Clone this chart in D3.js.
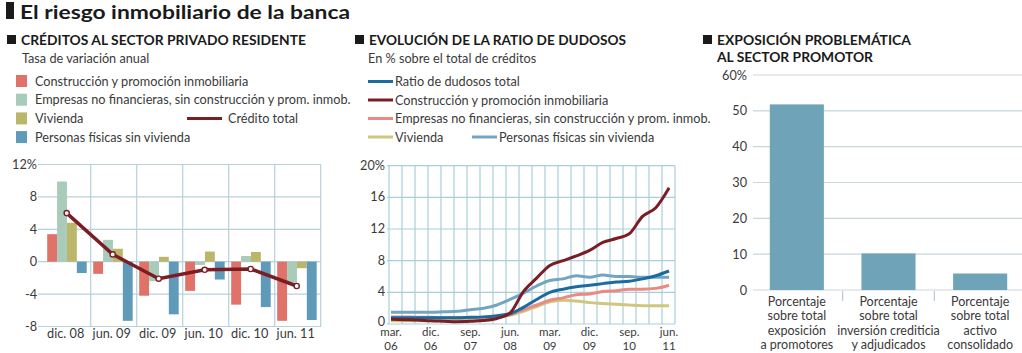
<!DOCTYPE html>
<html>
<head>
<meta charset="utf-8">
<script src="https://cdn.jsdelivr.net/npm/d3@7"></script>
<style>
  body { margin: 0; background: #fff; }
  svg { display: block; font-family: Lato, "Open Sans", sans-serif; }
  .lbl { fill: #3a3a3a; font-size: 12.7px; }
  .ttl { fill: #1a1a1a; font-size: 13px; font-weight: bold; }
</style>
</head>
<body>
<div id="chart"></div>
<script>
// ---- data: créditos al sector privado (tasa de variación anual) ----
const periods = ["dic. 08", "jun. 09", "dic. 09", "jun. 10", "dic. 10", "jun. 11"];
const construccion = [3.4, -1.5, -4.2, -3.6, -5.3, -7.3];
const empresas = [9.9, 2.7, -2.4, -0.4, 0.7, -2.6];
const vivienda = [4.8, 1.6, 0.6, 1.25, 1.2, -0.8];
const personas = [-1.4, -7.3, -6.5, -2.2, -5.6, -7.2];
const creditoTotal = [6.0, 0.9, -2.1, -1.0, -0.9, -3.0];
const leftTicks = [-8, -4, 0, 4, 8, 12];

// ---- data: ratio de dudosos, trimestral mar.06 - jun.11 ----
const quarters = ["mar. 06", "jun. 06", "sep. 06", "dic. 06", "mar. 07", "jun. 07", "sep. 07", "dic. 07",
  "mar. 08", "jun. 08", "sep. 08", "dic. 08", "mar. 09", "jun. 09", "sep. 09", "dic. 09",
  "mar. 10", "jun. 10", "sep. 10", "dic. 10", "mar. 11", "jun. 11"];
const quarterTicks = ["mar. 06", "dic. 06", "sep. 07", "jun. 08", "mar. 09", "dic. 09", "sep. 10", "jun. 11"];
const midTicks = [0, 4, 8, 12, 16, 20];
const ratioTotal = [0.8, 0.8, 0.8, 0.8, 0.8, 0.8, 0.85, 0.9, 1.05, 1.3, 2.1, 3.1, 4.0, 4.4, 4.7, 4.9, 5.1, 5.3, 5.4, 5.7, 6.1, 6.7];
const dudConstruccion = [0.6, 0.55, 0.5, 0.4, 0.35, 0.3, 0.35, 0.45, 0.7, 1.4, 4.1, 5.8, 7.4, 8.0, 8.6, 9.3, 10.3, 10.8, 11.4, 13.6, 14.7, 17.2];
const dudEmpresas = [0.9, 0.9, 0.85, 0.85, 0.8, 0.8, 0.8, 0.85, 0.95, 1.2, 1.8, 2.4, 3.0, 3.3, 3.7, 3.8, 4.1, 4.2, 4.4, 4.4, 4.5, 4.9];
const dudVivienda = [0.4, 0.4, 0.4, 0.4, 0.4, 0.45, 0.5, 0.6, 0.8, 1.1, 1.6, 2.2, 2.8, 3.0, 2.9, 2.7, 2.6, 2.5, 2.4, 2.3, 2.3, 2.3];
const dudPersonas = [1.5, 1.5, 1.5, 1.5, 1.55, 1.6, 1.8, 2.0, 2.4, 3.1, 3.9, 4.8, 5.5, 5.7, 6.1, 5.9, 6.2, 6.0, 6.0, 5.9, 5.9, 5.9];

// ---- data: exposición problemática ----
const exposLabels = [
  ["Porcentaje", "sobre total", "exposición", "a promotores"],
  ["Porcentaje", "sobre total", "inversión crediticia", "y adjudicados"],
  ["Porcentaje", "sobre total", "activo", "consolidado"]
];
const exposValues = [51.8, 10.2, 4.6];
const rightTicks = [0, 10, 20, 30, 40, 50, 60];

const svg = d3.select("#chart").append("svg")
  .attr("width", 1022)
  .attr("height", 353);

// main title
svg.append("rect").attr("x", 6).attr("y", 2).attr("width", 8).attr("height", 17).attr("fill", "#1a1a1a");
svg.append("text").attr("x", 20).attr("y", 18.5)
  .attr("font-size", 19).attr("font-weight", "bold").attr("fill", "#1a1a1a")
  .attr("textLength", 330).attr("lengthAdjust", "spacingAndGlyphs")
  .text("El riesgo inmobiliario de la banca");

function sectionTitle(x, lines, widths) {
  svg.append("rect").attr("x", x).attr("y", 35).attr("width", 9).attr("height", 9).attr("fill", "#1a1a1a");
  lines.forEach((t, i) => {
    svg.append("text").attr("class", "ttl")
      .attr("x", x + 14).attr("y", 45 + i * 17)
      .attr("textLength", widths[i]).attr("lengthAdjust", "spacingAndGlyphs")
      .text(t);
  });
}

// ================= LEFT: bar chart with line =================
const barKeys = ["construccion", "empresas", "vivienda", "personas"];
const barColors = {construccion: "#e0726a", empresas: "#a9cbb9", vivienda: "#bcb66b", personas: "#5f9bb8"};
const barData = {construccion, empresas, vivienda, personas};

sectionTitle(7, ["CRÉDITOS AL SECTOR PRIVADO RESIDENTE"], [285]);
svg.append("text").attr("class", "lbl").attr("x", 22).attr("y", 63).text("Tasa de variación anual");

const leftLegend = [
  ["construccion", "Construcción y promoción inmobiliaria"],
  ["empresas", "Empresas no financieras, sin construcción y prom. inmob."],
  ["vivienda", "Vivienda"],
  ["personas", "Personas físicas sin vivienda"]
];
leftLegend.forEach((d, i) => {
  let y = 81 + i * 18.7;
  svg.append("rect").attr("x", 16).attr("y", y - 6).attr("width", 11).attr("height", 12).attr("fill", barColors[d[0]]);
  svg.append("text").attr("class", "lbl").attr("x", 35).attr("y", y + 4.5).text(d[1]);
});
svg.append("line").attr("x1", 187).attr("x2", 222).attr("y1", 118.4).attr("y2", 118.4)
  .attr("stroke", "#7b1d22").attr("stroke-width", 3);
svg.append("text").attr("class", "lbl").attr("x", 228).attr("y", 122.9).text("Crédito total");

const lx = d3.scaleBand().domain(periods).range([44.7, 320.7]);
const lx1 = d3.scaleBand().domain(barKeys).range([2.5, 42]);
const ly = d3.scaleLinear().domain([-8, 12]).range([326.5, 164.5]);

const leftG = svg.append("g");
leftG.selectAll(".hgrid").data(leftTicks).join("line")
  .attr("x1", 38).attr("x2", 321)
  .attr("y1", d => ly(d)).attr("y2", d => ly(d))
  .attr("stroke", "#b7d1da").attr("stroke-width", 1.2);
leftG.selectAll(".vgrid").data(periods).join("line")
  .attr("x1", d => lx(d) + lx.bandwidth()).attr("x2", d => lx(d) + lx.bandwidth())
  .attr("y1", ly(12)).attr("y2", ly(-8))
  .attr("stroke", "#b7d1da").attr("stroke-width", 1.2);
leftG.selectAll(".ytick").data(leftTicks).join("text")
  .attr("class", "lbl").attr("text-anchor", "end")
  .attr("x", 37).attr("y", d => ly(d) + 4.5)
  .text(d => d === 12 ? "12%" : d);
leftG.selectAll(".xtick").data(periods).join("text")
  .attr("class", "lbl").attr("text-anchor", "middle")
  .attr("x", d => lx(d) + lx.bandwidth() / 2 - 2).attr("y", 338)
  .text(d => d);

periods.forEach((p, i) => {
  barKeys.forEach(k => {
    let v = barData[k][i];
    leftG.append("rect")
      .attr("x", lx(p) + lx1(k))
      .attr("width", lx1.bandwidth())
      .attr("y", ly(Math.max(0, v)))
      .attr("height", Math.abs(ly(v) - ly(0)))
      .attr("fill", barColors[k]);
  });
});

const totalLine = d3.line()
  .x((d, i) => lx(periods[i]) + 22)
  .y(d => ly(d));
leftG.append("path").datum(creditoTotal)
  .attr("d", totalLine)
  .attr("fill", "none").attr("stroke", "#7b1d22").attr("stroke-width", 3.5);
leftG.selectAll(".pt").data(creditoTotal).join("circle")
  .attr("cx", (d, i) => lx(periods[i]) + 22).attr("cy", d => ly(d))
  .attr("r", 2.6).attr("fill", "#fff").attr("stroke", "#7b1d22").attr("stroke-width", 1.4);

// ================= MIDDLE: line chart =================
sectionTitle(355, ["EVOLUCIÓN DE LA RATIO DE DUDOSOS"], [257]);
svg.append("text").attr("class", "lbl").attr("x", 368).attr("y", 63).text("En % sobre el total de créditos");

const lineSeries = [
  {name: "Vivienda", values: dudVivienda, color: "#cfc77f"},
  {name: "Empresas no financieras, sin construcción y prom. inmob.", values: dudEmpresas, color: "#e98b82"},
  {name: "Personas físicas sin vivienda", values: dudPersonas, color: "#72a6c0"},
  {name: "Ratio de dudosos total", values: ratioTotal, color: "#1b6aa0"},
  {name: "Construcción y promoción inmobiliaria", values: dudConstruccion, color: "#7a1d25"}
];
const legendOrder = [
  [3, 368, 81.5], [4, 368, 100], [1, 368, 118.5], [0, 368, 137], [2, 472, 137]
];
legendOrder.forEach(d => {
  let s = lineSeries[d[0]];
  svg.append("line").attr("x1", d[1]).attr("x2", d[1] + 25).attr("y1", d[2]).attr("y2", d[2])
    .attr("stroke", s.color).attr("stroke-width", 3);
  svg.append("text").attr("class", "lbl").attr("x", d[1] + 27).attr("y", d[2] + 4.5).text(s.name);
});

const mx = d3.scaleLinear().domain([0, quarters.length - 1]).range([391, 669]);
const gx = d3.scaleLinear().domain([0, 22]).range([389, 675]);
const my = d3.scaleLinear().domain([0, 20]).range([324, 165.7]);

const midG = svg.append("g");
midG.selectAll(".vgrid").data(d3.range(23)).join("line")
  .attr("x1", d => gx(d)).attr("x2", d => gx(d))
  .attr("y1", my(20)).attr("y2", my(0))
  .attr("stroke", "#a9cfdb").attr("stroke-width", 1.2);
midG.selectAll(".hgrid").data(midTicks).join("line")
  .attr("x1", 387).attr("x2", 675)
  .attr("y1", d => my(d)).attr("y2", d => my(d))
  .attr("stroke", "#a9cfdb").attr("stroke-width", 1.2);
midG.selectAll(".ytick").data(midTicks).join("text")
  .attr("class", "lbl").attr("text-anchor", "end")
  .attr("x", 385).attr("y", d => my(d) + (d === 0 ? 2 : 4))
  .text(d => d === 20 ? "20%" : d);

// two-line quarter labels, kept as separate texts
quarterTicks.forEach(q => {
  let i = quarters.indexOf(q);
  let parts = q.split(" ");
  midG.append("text").attr("class", "lbl").attr("text-anchor", "middle")
    .style("font-size", "11.5px")
    .attr("x", mx(i)).attr("y", 336.3).text(parts[0]);
  midG.append("text").attr("class", "lbl").attr("text-anchor", "middle")
    .style("font-size", "11.5px")
    .attr("x", mx(i)).attr("y", 350.4).text(parts[1]);
});

const dudLine = d3.line()
  .x((d, i) => mx(i))
  .y(d => my(d))
  .curve(d3.curveMonotoneX);
midG.selectAll(".series").data(lineSeries).join("path")
  .attr("d", d => dudLine(d.values))
  .attr("fill", "none")
  .attr("stroke", d => d.color)
  .attr("stroke-width", 3)
  .attr("stroke-linejoin", "round");

// ================= RIGHT: bar chart =================
sectionTitle(703, ["EXPOSICIÓN PROBLEMÁTICA", "AL SECTOR PROMOTOR"], [194, 156]);

const rx = d3.scaleBand().domain(d3.range(exposValues.length))
  .range([751, 1026]).paddingInner(0.41).paddingOuter(0.205);
const ry = d3.scaleLinear().domain([0, 60]).range([290, 75]);

const rightG = svg.append("g");
rightG.selectAll(".hgrid").data(rightTicks).join("line")
  .attr("x1", 753).attr("x2", 1022)
  .attr("y1", d => ry(d)).attr("y2", d => ry(d))
  .attr("stroke", "#c9d6db").attr("stroke-width", 1.2);
rightG.selectAll(".ytick").data(rightTicks).join("text")
  .attr("class", "lbl").attr("text-anchor", "end")
  .attr("x", 747).attr("y", d => ry(d) + 4.5)
  .text(d => d === 60 ? "60%" : d);

rightG.selectAll(".bar").data(exposValues).join("rect")
  .attr("x", (d, i) => rx(i))
  .attr("width", rx.bandwidth())
  .attr("y", d => ry(d))
  .attr("height", d => ry(0) - ry(d))
  .attr("fill", "#6ea3b8");

// small separators between categories
rightG.selectAll(".sep").data([0, 1]).join("line")
  .attr("x1", d => rx(d) + rx.bandwidth() + rx.step() * 0.205)
  .attr("x2", d => rx(d) + rx.bandwidth() + rx.step() * 0.205)
  .attr("y1", 291).attr("y2", 301)
  .attr("stroke", "#b9c9cf").attr("stroke-width", 1.2);

exposLabels.forEach((lines, i) => {
  lines.forEach((l, j) => {
    rightG.append("text").attr("class", "lbl").attr("text-anchor", "middle")
      .style("font-size", "12.5px")
      .attr("x", rx(i) + rx.bandwidth() / 2).attr("y", 306 + j * 14.4).text(l);
  });
});
</script>
</body>
</html>
